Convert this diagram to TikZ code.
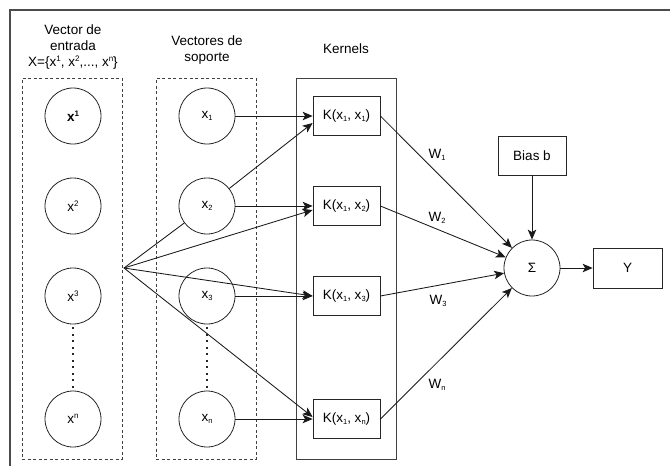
\documentclass[tikz,border=0pt]{standalone}
\usepackage{fontspec}
\setmainfont{Liberation Sans}
\usetikzlibrary{arrows.meta}
\newcommand{\mysub}[1]{\raisebox{-0.25ex}{\fontsize{7.5}{8}\selectfont #1}}
\newcommand{\mysup}[1]{\raisebox{0.75ex}{\fontsize{8}{8}\selectfont #1}}
\begin{document}
\begin{tikzpicture}[x=1pt,y=-1pt, font=\fontsize{13.5}{16}\selectfont,
  circ/.style={draw=black!85, circle, minimum size=56pt, inner sep=0pt, line width=0.8pt},
  kbox/.style={draw=black!85, rectangle, minimum width=67pt, minimum height=39pt, inner sep=0pt, line width=0.8pt},
  grp/.style={draw=black!75, rectangle, dash pattern=on 3pt off 2.5pt, line width=0.8pt, minimum width=100pt, minimum height=381pt, inner sep=0pt},
  solidgrp/.style={draw=black!75, rectangle, line width=0.9pt, minimum width=100pt, minimum height=381pt, inner sep=0pt},
  arr/.style={-{Stealth[length=10pt,width=8.5pt,inset=2.5pt]}, line width=0.85pt, draw=black!90},
  ln/.style={line width=0.85pt, draw=black!90},
  dots/.style={line width=1.7pt, dash pattern=on 1.7pt off 4.8pt, draw=black!85, shorten <=3pt, shorten >=2pt},
]
\useasboundingbox (0,0) rectangle (670,466);
\draw[line width=1.4pt, black!70] (10,470) -- (10,10) -- (675,10);

% group boxes
\node[grp] (ginput) at (72,268.5) {};
\node[grp] (gsup) at (206,268.5) {};
\node[solidgrp] (gker) at (346,268.5) {};

% titles
\node[align=center, inner sep=0pt] (tin) at (73,47) {Vector de\\entrada\\X=\{x\mysup{1}, x\mysup{2},..., x\mysup{n}\}};
\node[align=center, inner sep=0pt] (tsup) at (207,50) {Vectores de\\soporte};
\node[inner sep=0pt] (tker) at (346,49) {Kernels};

% input circles
\node[circ] (i1) at (73,116) {\textbf{x\mysup{\textbf{1}}}};
\node[circ] (i2) at (73,206) {x\mysup{2}};
\node[circ] (i3) at (73,296) {x\mysup{3}};
\node[circ] (i4) at (73,419) {x\mysup{n}};

% support circles
\node[circ] (s1) at (207,116) {x\mysub{1}};
\node[circ] (s2) at (207,206) {x\mysub{2}};
\node[circ] (s3) at (207,296) {x\mysub{3}};
\node[circ] (s4) at (207,419) {x\mysub{n}};

% kernels
\node[kbox] (k1) at (346.5,116) {K(x\mysub{1}, x\mysub{1})};
\node[kbox] (k2) at (346.5,206) {K(x\mysub{1}, x\mysub{2})};
\node[kbox] (k3) at (346.5,296) {K(x\mysub{1}, x\mysub{3})};
\node[kbox] (k4) at (346.5,419) {K(x\mysub{1}, x\mysub{n})};

% output side
\node[circ] (sig) at (532,268) {Σ};
\node[kbox, minimum width=68pt] (bias) at (532,155.5) {Bias b};
\node[kbox, minimum width=69pt, minimum height=40pt] (yout) at (627.5,268) {Y};

\coordinate (fan) at (124,268);

% dotted lines
\draw[dots] (i3.south) -- (i4.north);
\draw[dots] (s3.south) -- (s4.north);

% connectors
\draw[arr] (s1) -- (k1);
\draw[arr] (s2) -- ([yshift=-7pt]k1.west);
\draw[arr] (s2) -- (k2);
\draw[ln] (fan) -- (s2);
\draw[arr] (fan) -- ([yshift=-4pt]k2.west);
\draw[arr] (fan) -- (k3.west);
\draw[arr] (s3) -- (k3);
\draw[arr] (fan) -- ([yshift=2pt]k4.west);
\draw[arr] (s4) -- (k4);

\draw[arr] (k1.east) -- (sig);
\draw[arr] (k2.east) -- (sig);
\draw[arr] (k3.east) -- (sig);
\draw[arr] (k4.east) -- (sig);
\draw[arr] (bias) -- (sig);
\draw[arr] (sig) -- (yout);

% weights
\node (w1) at (437,155) {W\mysub{1}};
\node (w2) at (437,218) {W\mysub{2}};
\node (w3) at (438,301) {W\mysub{3}};
\node (w4) at (437,385) {W\mysub{n}};
\end{tikzpicture}
\end{document}
